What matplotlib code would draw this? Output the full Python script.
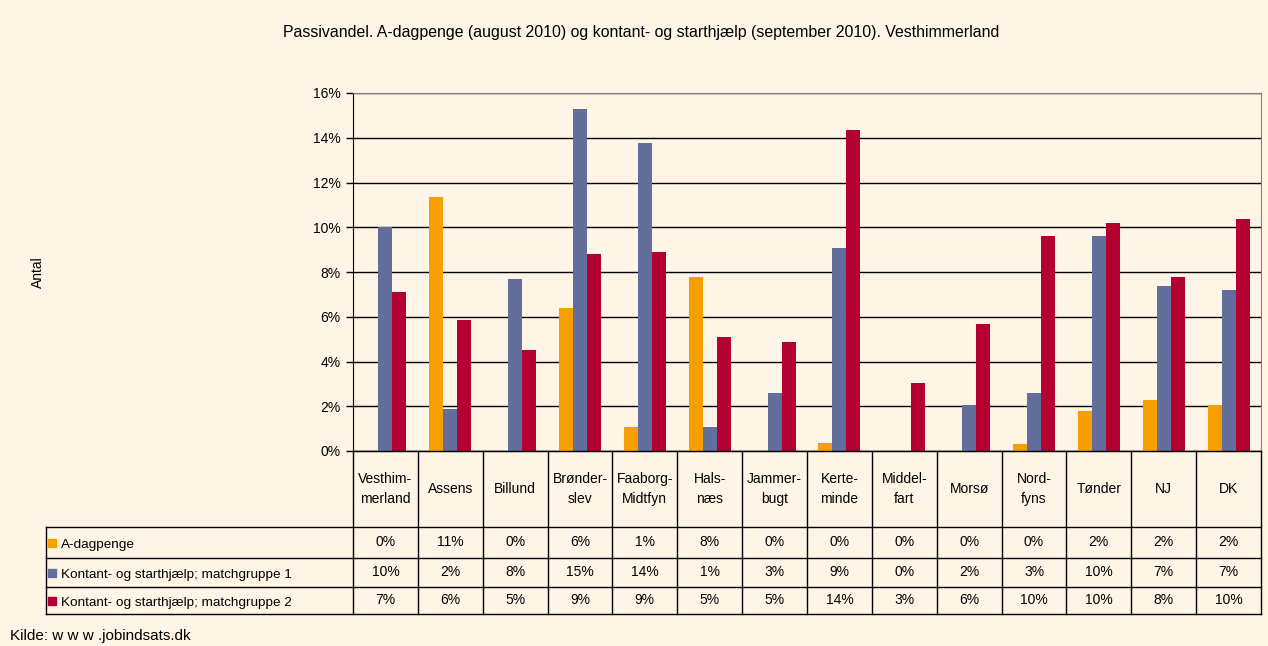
import matplotlib
matplotlib.use('Agg')
import matplotlib.pyplot as plt
import numpy as np

plt.rcParams['font.family'] = ['Liberation Sans', 'DejaVu Sans']

# Data
kommuner = ['Vesthim-\nmerland', 'Assens', 'Billund', 'Brønder-\nslev', 'Faaborg-\nMidtfyn',
            'Hals-\nnæs', 'Jammer-\nbugt', 'Kerte-\nminde', 'Middel-\nfart', 'Morsø',
            'Nord-\nfyns', 'Tønder', 'NJ', 'DK']
a_dagpenge = [0.0, 11.33, 0.0, 6.40, 1.07, 7.79, 0.0, 0.36, 0.0, 0.0, 0.31, 1.79, 2.28, 2.06]
match1 = [10.01, 1.88, 7.70, 15.27, 13.75, 1.07, 2.60, 9.09, 0.0, 2.06, 2.60, 9.63, 7.39, 7.21]
match2 = [7.12, 5.87, 4.52, 8.82, 8.91, 5.10, 4.88, 14.33, 3.04, 5.69, 9.63, 10.21, 7.79, 10.39]
serier = ['A-dagpenge', 'Kontant- og starthjælp; matchgruppe 1', 'Kontant- og starthjælp; matchgruppe 2']
farver = ['#F5A000', '#646E9C', '#B30033']
bg = '#FFF5E6'

W, H = 1268, 646
fig = plt.figure(figsize=(W / 100, H / 100), dpi=100, facecolor=bg)

# plot area in pixels
L, R, T, B = 353, 1261, 93, 451
ax = fig.add_axes([L / W, 1 - B / H, (R - L) / W, (B - T) / H])
ax.set_facecolor(bg)

n = len(kommuner)
x = np.arange(n)
bw = 0.216
for i, (vals, c) in enumerate(zip([a_dagpenge, match1, match2], farver)):
    ax.bar(x + (i - 1) * bw, vals, width=bw, color=c, zorder=3)

ax.set_xlim(-0.5, n - 0.5)
ax.set_ylim(0, 16)
ax.set_yticks(range(0, 17, 2))
ax.set_yticklabels([f'{v}%' for v in range(0, 17, 2)], fontsize=10)
ax.yaxis.grid(True, color='black', linewidth=1, zorder=0)
ax.set_xticks([])
ax.tick_params(axis='y', length=5, width=1, pad=4)
for s in ['top', 'right']:
    ax.spines[s].set_color('#808080')
for s in ['left', 'bottom']:
    ax.spines[s].set_color('black')

# title, labels
fig.text(641 / W, 1 - 33 / H, 'Passivandel. A-dagpenge (august 2010) og kontant- og starthjælp (september 2010). Vesthimmerland',
         ha='center', va='center', fontsize=11.4)
fig.text(38 / W, 1 - 272 / H, 'Antal', rotation=90, ha='center', va='center', fontsize=10)
fig.text(10 / W, 1 - 636 / H, 'Kilde: w w w .jobindsats.dk', ha='left', va='center', fontsize=11)

# data table below the chart
tab = fig.add_axes([0, 0, 1, 1])
tab.set_xlim(0, W)
tab.set_ylim(H, 0)
tab.axis('off')
tab.patch.set_alpha(0)

rows_y = [451, 527, 558, 587, 614]
tl = 46
cw = (R - L) / n
edges = [L + i * cw for i in range(n + 1)]
lc = 'black'
# horizontal lines
tab.plot([L, R], [rows_y[0], rows_y[0]], color=lc, lw=1)
for yy in rows_y[1:]:
    tab.plot([tl, R], [yy, yy], color=lc, lw=1)
# vertical lines
for xx in edges:
    tab.plot([xx, xx], [rows_y[0], rows_y[-1]], color=lc, lw=1)
tab.plot([tl, tl], [rows_y[1], rows_y[-1]], color=lc, lw=1)

for j, navn in enumerate(kommuner):
    cx = (edges[j] + edges[j + 1]) / 2
    tab.text(cx, (rows_y[0] + rows_y[1]) / 2, navn, ha='center', va='center', fontsize=10, linespacing=1.5)
    for r, vals in enumerate([a_dagpenge, match1, match2]):
        cy = (rows_y[r + 1] + rows_y[r + 2]) / 2
        tab.text(cx, cy, f'{vals[j]:.0f}%', ha='center', va='center', fontsize=10)

for r, (navn, c) in enumerate(zip(serier, farver)):
    cy = (rows_y[r + 1] + rows_y[r + 2]) / 2
    tab.add_patch(plt.Rectangle((48, cy - 4), 8, 8, color=c))
    tab.text(61, cy + 1, navn, ha='left', va='center_baseline', fontsize=9.7)

fig.savefig('out.png', dpi=100, facecolor=bg)
